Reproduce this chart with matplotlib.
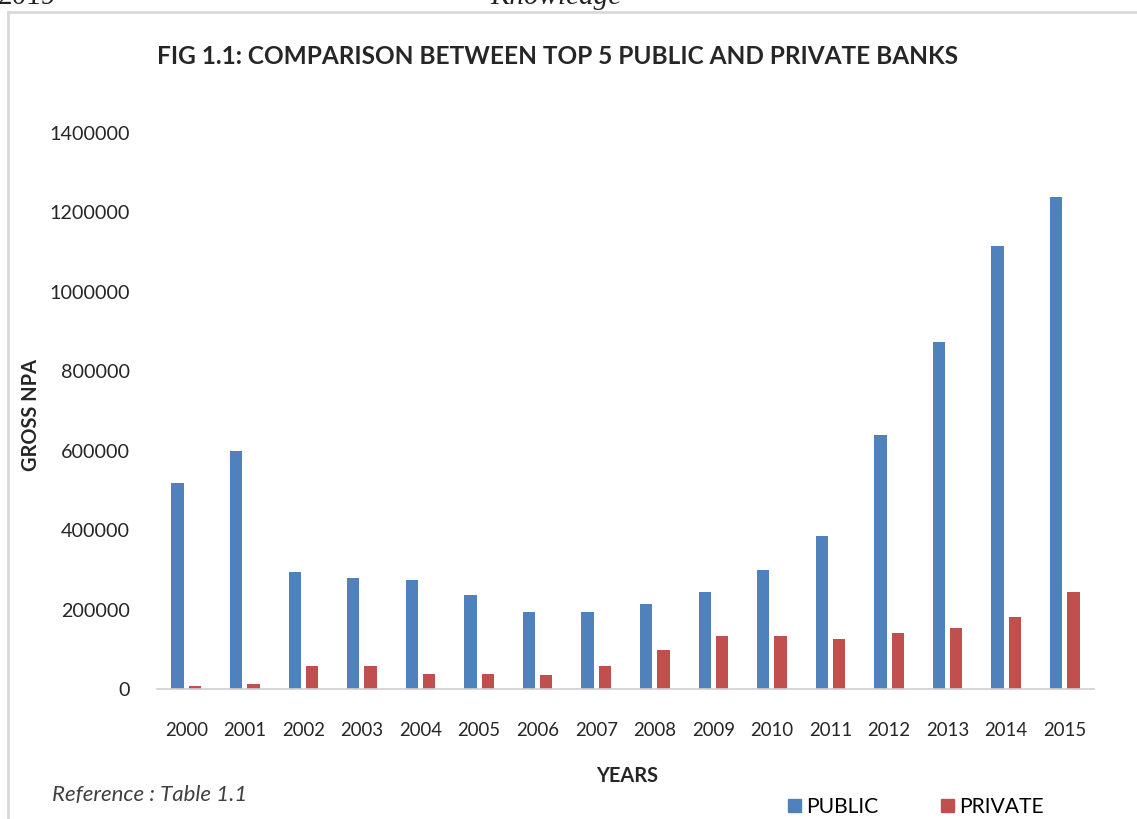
import numpy as np
import matplotlib
matplotlib.use("Agg")
import matplotlib.pyplot as plt
from matplotlib.lines import Line2D
from matplotlib.patches import Patch

years = [str(y) for y in range(2000, 2016)]
public = [519000, 600000, 294000, 280000, 274000, 237000, 193000, 193000,
          214000, 245000, 300000, 384000, 639000, 874000, 1116000, 1239000]
private = [8000, 12000, 59000, 59000, 38500, 38500, 34500, 59000,
           98000, 134000, 134000, 126000, 142000, 153000, 182000, 243000]

blue = "#4F81BD"
red = "#C0504D"
fnt = "Lato"
txt = "#262626"

fig = plt.figure(figsize=(11.37, 8.19), dpi=100)
ax = fig.add_axes([157/1137, 1-689/819, (1094-157)/1137, (689-133)/819])

x = np.arange(len(years))
w = 0.21
ax.bar(x - 0.148, public, w, color=blue, label="PUBLIC")
ax.bar(x + 0.148, private, w, color=red, label="PRIVATE")

ax.set_xlim(-0.5, len(years) - 0.5)
ax.set_ylim(0, 1400000)
ax.set_yticks(np.arange(0, 1400001, 200000))
ax.set_yticklabels([str(v) for v in range(0, 1400001, 200000)], fontsize=14.2, family=fnt, color=txt)
ax.set_xticks(x)
ax.set_xticklabels(years, fontsize=13.4, family=fnt, color=txt)
ax.tick_params(length=0, axis="y", pad=19.5)
ax.tick_params(length=0, axis="x", pad=23.5)
for s in ["top", "right", "left"]:
    ax.spines[s].set_visible(False)
ax.spines["bottom"].set_color("#d0d0d0")
ax.spines["bottom"].set_linewidth(1.2)

fig.text(558/1137, 1-57/819, "FIG 1.1: COMPARISON BETWEEN TOP 5 PUBLIC AND PRIVATE BANKS",
         ha="center", va="center", fontsize=17.6, fontweight="bold", family=fnt, color=txt)
fig.text(31/1137, 1-415/819, "GROSS NPA", rotation=90, ha="center", va="center",
         fontsize=14.4, fontweight="bold", family=fnt, color=txt)
fig.text(627/1137, 1-776/819, "YEARS", ha="center", va="center",
         fontsize=14.4, fontweight="bold", family=fnt, color=txt)
fig.text(52/1137, 1-795/819, "Reference : Table 1.1", ha="left", va="center",
         fontsize=16, style="italic", family=fnt, color="#404040")

# legend
handles = [Patch(color=blue), Patch(color=red)]
fig.legend(handles, ["PUBLIC", "PRIVATE"], loc="center", bbox_to_anchor=(916/1137, 1-807/819),
           ncol=2, frameon=False, handlelength=0.58, handleheight=0.58, handletextpad=0.25,
           columnspacing=3.0, prop={"family": fnt, "size": 15.2})

# page border and clipped header from the source page
fig.add_artist(Line2D([8/1137, 1], [1-12/819, 1-12/819], color="#d9d9d9", lw=2))
fig.add_artist(Line2D([8/1137, 8/1137], [0, 1-12/819], color="#d9d9d9", lw=2))
fig.text(-2/1137, 1-4/819, "2019", ha="left", va="baseline", fontsize=21,
         family="Liberation Serif", color="#222222")
fig.text(490/1137, 1-4/819, "Knowledge", ha="left", va="baseline", fontsize=21,
         style="italic", family="Liberation Serif", color="#222222")

fig.savefig("out.png", dpi=100)
